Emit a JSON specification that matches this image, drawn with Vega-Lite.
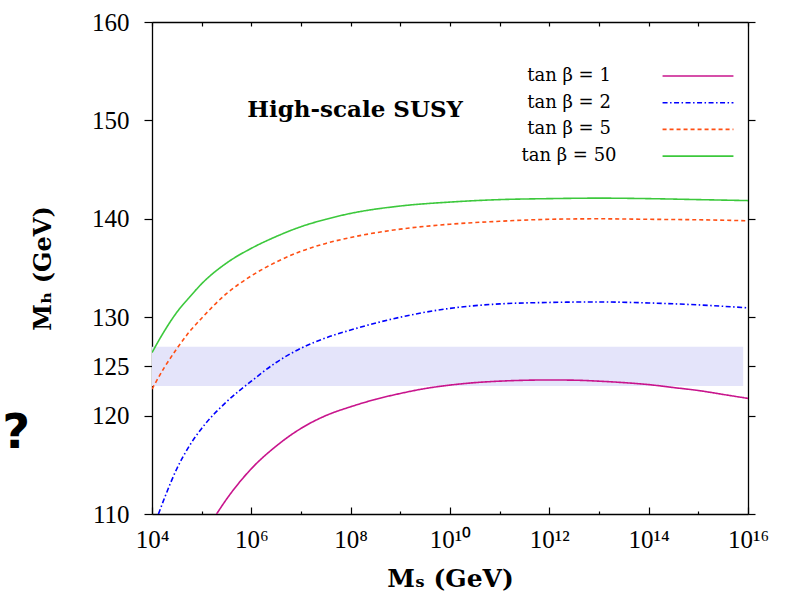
{
  "$schema": "https://vega.github.io/schema/vega-lite/v6.json",
  "width": 596,
  "height": 492,
  "autosize": {"type": "none"},
  "padding": {"left": 152, "top": 22, "right": 39, "bottom": 79},
  "background": "white",
  "config": {
    "view": {"stroke": null},
    "axis": {"grid": false, "domainColor": "black", "tickColor": "black", "labelColor": "black", "titleColor": "black", "domainWidth": 1.3, "tickWidth": 1.2}
  },
  "resolve": {"axis": {"x": "independent", "y": "independent"}},
  "layer": [
    {
      "data": {"values": [{"lo": 123, "hi": 127, "xa": 1e4, "xb": 8e15}]},
      "mark": {"type": "rect", "color": "#e4e4fa"},
      "encoding": {
        "x": {"field": "xa", "type": "quantitative", "scale": {"type": "log", "domain": [1e4, 1e16], "nice": false},
          "axis": {"orient": "top", "values": [1e4, 1e5, 1e6, 1e7, 1e8, 1e9, 1e10, 1e11, 1e12, 1e13, 1e14, 1e15, 1e16], "labels": false, "tickSize": -4, "title": null}},
        "x2": {"field": "xb"},
        "y": {"field": "lo", "type": "quantitative", "scale": {"domain": [110, 160], "nice": false, "zero": false},
          "axis": {"orient": "right", "values": [110, 120, 125, 130, 140, 150, 160], "labels": false, "tickSize": 7, "title": null}},
        "y2": {"field": "hi"}
      }
    },
    {
      "data": {"values": [
        {"s": "tan β = 1", "M": 1.99526e5, "Mh": 110.0},
        {"s": "tan β = 1", "M": 3.16228e5, "Mh": 111.5},
        {"s": "tan β = 1", "M": 1e6, "Mh": 114.6},
        {"s": "tan β = 1", "M": 3.16228e6, "Mh": 116.9},
        {"s": "tan β = 1", "M": 1e7, "Mh": 118.7},
        {"s": "tan β = 1", "M": 3.16228e7, "Mh": 120.0},
        {"s": "tan β = 1", "M": 1e8, "Mh": 120.9},
        {"s": "tan β = 1", "M": 3.16228e8, "Mh": 121.65},
        {"s": "tan β = 1", "M": 1e9, "Mh": 122.25},
        {"s": "tan β = 1", "M": 3.16228e9, "Mh": 122.75},
        {"s": "tan β = 1", "M": 1e10, "Mh": 123.1},
        {"s": "tan β = 1", "M": 3.16228e10, "Mh": 123.35},
        {"s": "tan β = 1", "M": 1e11, "Mh": 123.5},
        {"s": "tan β = 1", "M": 1e12, "Mh": 123.62},
        {"s": "tan β = 1", "M": 3.16228e12, "Mh": 123.6},
        {"s": "tan β = 1", "M": 1e13, "Mh": 123.5},
        {"s": "tan β = 1", "M": 3.16228e13, "Mh": 123.35},
        {"s": "tan β = 1", "M": 1e14, "Mh": 123.15},
        {"s": "tan β = 1", "M": 3.16228e14, "Mh": 122.85},
        {"s": "tan β = 1", "M": 1e15, "Mh": 122.55},
        {"s": "tan β = 1", "M": 3.16228e15, "Mh": 122.15},
        {"s": "tan β = 1", "M": 1e16, "Mh": 121.75},
        {"s": "tan β = 2", "M": 1.349e4, "Mh": 110.0},
        {"s": "tan β = 2", "M": 1.7783e4, "Mh": 111.6},
        {"s": "tan β = 2", "M": 3.1623e4, "Mh": 114.6},
        {"s": "tan β = 2", "M": 5.6234e4, "Mh": 116.9},
        {"s": "tan β = 2", "M": 1e5, "Mh": 118.7},
        {"s": "tan β = 2", "M": 3.16228e5, "Mh": 121.4},
        {"s": "tan β = 2", "M": 1e6, "Mh": 123.5},
        {"s": "tan β = 2", "M": 3.16228e6, "Mh": 125.4},
        {"s": "tan β = 2", "M": 1e7, "Mh": 126.85},
        {"s": "tan β = 2", "M": 3.16228e7, "Mh": 127.9},
        {"s": "tan β = 2", "M": 1e8, "Mh": 128.7},
        {"s": "tan β = 2", "M": 1e9, "Mh": 130.0},
        {"s": "tan β = 2", "M": 1e10, "Mh": 130.9},
        {"s": "tan β = 2", "M": 1e11, "Mh": 131.35},
        {"s": "tan β = 2", "M": 1e12, "Mh": 131.5},
        {"s": "tan β = 2", "M": 1e13, "Mh": 131.55},
        {"s": "tan β = 2", "M": 1e14, "Mh": 131.45},
        {"s": "tan β = 2", "M": 1e15, "Mh": 131.25},
        {"s": "tan β = 2", "M": 1e16, "Mh": 130.95},
        {"s": "tan β = 5", "M": 1e4, "Mh": 122.7},
        {"s": "tan β = 5", "M": 1.7783e4, "Mh": 124.9},
        {"s": "tan β = 5", "M": 3.1623e4, "Mh": 126.8},
        {"s": "tan β = 5", "M": 5.6234e4, "Mh": 128.5},
        {"s": "tan β = 5", "M": 1e5, "Mh": 129.9},
        {"s": "tan β = 5", "M": 3.16228e5, "Mh": 132.4},
        {"s": "tan β = 5", "M": 1e6, "Mh": 134.2},
        {"s": "tan β = 5", "M": 3.16228e6, "Mh": 135.6},
        {"s": "tan β = 5", "M": 1e7, "Mh": 136.7},
        {"s": "tan β = 5", "M": 3.16228e7, "Mh": 137.5},
        {"s": "tan β = 5", "M": 1e8, "Mh": 138.1},
        {"s": "tan β = 5", "M": 1e9, "Mh": 138.95},
        {"s": "tan β = 5", "M": 1e10, "Mh": 139.45},
        {"s": "tan β = 5", "M": 1e11, "Mh": 139.75},
        {"s": "tan β = 5", "M": 1e12, "Mh": 139.95},
        {"s": "tan β = 5", "M": 1e13, "Mh": 140.0},
        {"s": "tan β = 5", "M": 1e14, "Mh": 139.95},
        {"s": "tan β = 5", "M": 1e15, "Mh": 139.9},
        {"s": "tan β = 5", "M": 1e16, "Mh": 139.8},
        {"s": "tan β = 50", "M": 1e4, "Mh": 126.4},
        {"s": "tan β = 50", "M": 1.7783e4, "Mh": 128.6},
        {"s": "tan β = 50", "M": 3.1623e4, "Mh": 130.5},
        {"s": "tan β = 50", "M": 5.6234e4, "Mh": 132.0},
        {"s": "tan β = 50", "M": 1e5, "Mh": 133.4},
        {"s": "tan β = 50", "M": 3.16228e5, "Mh": 135.5},
        {"s": "tan β = 50", "M": 1e6, "Mh": 137.0},
        {"s": "tan β = 50", "M": 3.16228e6, "Mh": 138.2},
        {"s": "tan β = 50", "M": 1e7, "Mh": 139.2},
        {"s": "tan β = 50", "M": 3.16228e7, "Mh": 139.95},
        {"s": "tan β = 50", "M": 1e8, "Mh": 140.55},
        {"s": "tan β = 50", "M": 1e9, "Mh": 141.3},
        {"s": "tan β = 50", "M": 1e10, "Mh": 141.7},
        {"s": "tan β = 50", "M": 1e11, "Mh": 141.95},
        {"s": "tan β = 50", "M": 1e12, "Mh": 142.05},
        {"s": "tan β = 50", "M": 1e13, "Mh": 142.1},
        {"s": "tan β = 50", "M": 1e14, "Mh": 142.05},
        {"s": "tan β = 50", "M": 1e15, "Mh": 141.95},
        {"s": "tan β = 50", "M": 1e16, "Mh": 141.85}
      ]},
      "mark": {"type": "line", "strokeWidth": 1.6, "clip": true, "interpolate": "monotone"},
      "encoding": {
        "x": {"field": "M", "type": "quantitative", "scale": {"type": "log", "domain": [1e4, 1e16], "nice": false},
          "axis": {"orient": "bottom", "values": [1e4, 1e5, 1e6, 1e7, 1e8, 1e9, 1e10, 1e11, 1e12, 1e13, 1e14, 1e15, 1e16],
            "labelExpr": "round(log(datum.value)/LN10) % 2 == 1 ? '' : '10' + (datum.value < 1e5 ? '⁴' : datum.value < 1e7 ? '⁶' : datum.value < 1e9 ? '⁸' : datum.value < 1e11 ? '¹⁰' : datum.value < 1e13 ? '¹²' : datum.value < 1e15 ? '¹⁴' : '¹⁶')",
            "tickSize": {"condition": {"test": "round(log(datum.value)/LN10) % 2 == 0", "value": -7}, "value": -3},
            "labelPadding": 20, "labelFont": "Liberation Serif", "labelFontSize": 25, "labelFlush": false, "labelOverlap": false,
            "title": "Mₛ (GeV)", "titleFont": "DejaVu Serif", "titleFontWeight": "bold", "titleFontSize": 25, "titlePadding": 10}},
        "y": {"field": "Mh", "type": "quantitative", "scale": {"domain": [110, 160], "nice": false, "zero": false},
          "axis": {"orient": "left", "values": [110, 120, 125, 130, 140, 150, 160], "tickSize": 8, "labelPadding": 15,
            "labelFont": "Liberation Serif", "labelFontSize": 25, "labelFlush": false, "labelOverlap": false,
            "title": "Mₕ (GeV)", "titleFont": "DejaVu Serif", "titleFontWeight": "bold", "titleFontSize": 24, "titlePadding": 36}},
        "color": {"field": "s", "type": "nominal",
          "scale": {"domain": ["tan β = 1", "tan β = 2", "tan β = 5", "tan β = 50"], "range": ["#c8148c", "#0000ff", "#ff4f14", "#3cc83c"]},
          "legend": {"orient": "none", "legendX": 537, "legendY": 45, "title": null, "symbolType": "M-5,0H5", "symbolSize": 201, "symbolStrokeWidth": 1.6,
            "labelFont": "DejaVu Serif", "labelFontSize": 18, "labelColor": "black", "labelAlign": "center", "labelOffset": -138, "rowPadding": 8.7, "padding": 0}},
        "strokeDash": {"field": "s", "type": "nominal",
          "scale": {"domain": ["tan β = 1", "tan β = 2", "tan β = 5", "tan β = 50"], "range": [[1, 0], [5, 2.5, 1.5, 2.5], [4, 3], [1, 0]]},
          "legend": {"orient": "none", "legendX": 537, "legendY": 45, "title": null, "symbolType": "M-5,0H5", "symbolSize": 201, "symbolStrokeWidth": 1.6,
            "labelFont": "DejaVu Serif", "labelFontSize": 18, "labelColor": "black", "labelAlign": "center", "labelOffset": -138, "rowPadding": 8.7, "padding": 0}}
      }
    },
    {
      "data": {"values": [{"M": 1.23e8, "Mh": 150.3, "t": "High-scale SUSY"}]},
      "mark": {"type": "text", "font": "DejaVu Serif", "fontWeight": "bold", "fontSize": 23, "baseline": "alphabetic", "align": "center", "color": "black"},
      "encoding": {
        "x": {"field": "M", "type": "quantitative", "axis": null},
        "y": {"field": "Mh", "type": "quantitative", "axis": null},
        "text": {"field": "t"}
      }
    },
    {
      "data": {"values": [{"M": 1e4, "Mh": 116.7, "t": "?"}]},
      "mark": {"type": "text", "font": "DejaVu Sans", "fontWeight": "bold", "fontSize": 48, "baseline": "alphabetic", "align": "right", "dx": -122, "color": "black"},
      "encoding": {
        "x": {"field": "M", "type": "quantitative", "axis": null},
        "y": {"field": "Mh", "type": "quantitative", "axis": null},
        "text": {"field": "t"}
      }
    }
  ]
}
